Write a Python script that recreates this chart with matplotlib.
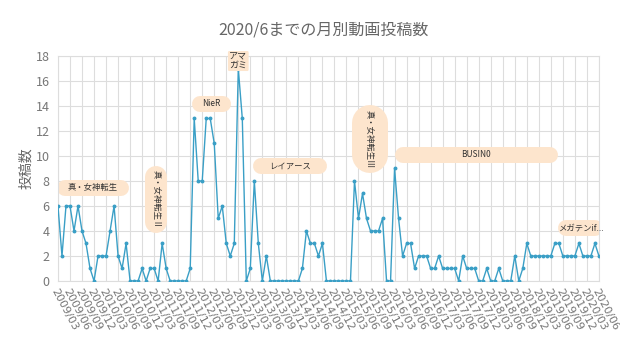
import matplotlib
matplotlib.use('Agg')
import matplotlib.pyplot as plt
import numpy as np

plt.rcParams['font.family'] = ['Noto Sans CJK JP', 'DejaVu Sans']

# monthly upload counts, 2009/03 .. 2020/06
counts_2009 = [6, 2, 6, 6, 4, 6, 4, 3, 1, 0]            # 03-12
counts_2010 = [2, 2, 2, 4, 6, 2, 1, 3, 0, 0, 0, 1]
counts_2011 = [0, 1, 1, 0, 3, 1, 0, 0, 0, 0, 0, 1]
counts_2012 = [13, 8, 8, 13, 13, 11, 5, 6, 3, 2, 3, 17]
counts_2013 = [13, 0, 1, 8, 3, 0, 2, 0, 0, 0, 0, 0]
counts_2014 = [0, 0, 0, 1, 4, 3, 3, 2, 3, 0, 0, 0]
counts_2015 = [0, 0, 0, 0, 8, 5, 7, 5, 4, 4, 4, 5]
counts_2016 = [0, 0, 9, 5, 2, 3, 3, 1, 2, 2, 2, 1]
counts_2017 = [1, 2, 1, 1, 1, 1, 0, 2, 1, 1, 1, 0]
counts_2018 = [0, 1, 0, 0, 1, 0, 0, 0, 2, 0, 1, 3]
counts_2019 = [2, 2, 2, 2, 2, 2, 3, 3, 2, 2, 2, 2]
counts_2020 = [3, 2, 2, 2, 3, 2]                        # 01-06

counts = (counts_2009 + counts_2010 + counts_2011 + counts_2012 + counts_2013 +
          counts_2014 + counts_2015 + counts_2016 + counts_2017 + counts_2018 +
          counts_2019 + counts_2020)

months = []
y, m = 2009, 3
for _ in counts:
    months.append(f"{y}/{m:02d}")
    m += 1
    if m > 12:
        y, m = y + 1, 1

# game periods: label, first month index, last month index, height, vertical?
period_labels = ['真・女神転生', '真・女神転生Ⅱ', 'NieR', 'レイアース',
                 '真・女神転生Ⅲ', 'BUSIN0', 'メガテンif...']
period_start = [1.75, 24.5, 35.5, 50.75, 77.75, 86.0, 126.75]
period_end = [15.75, 24.5, 41.25, 65.25, 77.75, 122.75, 134.0]
period_low = [7.44, 4.72, 14.16, 9.2, 10.08, 10.08, 4.24]
period_high = [7.44, 8.32, 14.16, 9.2, 12.64, 10.08, 4.24]
period_width = [16, 22, 16, 16, 36, 16, 16]   # px

fig = plt.figure(figsize=(6.2, 3.49), dpi=100)
ax = fig.add_axes([0.0935, 0.195, 0.8725, 0.6445])

x = np.arange(len(counts))
ax.plot(x, counts, color='#3a9fc6', linewidth=1.0, marker='o', markersize=1.8, zorder=3)

for lab, s, e, lo, hi, w in zip(period_labels, period_start, period_end,
                                period_low, period_high, period_width):
    ax.plot([s, e], [lo, hi], color='#fde5cd', linewidth=w * 0.72,
            solid_capstyle='round', zorder=2)
    vertical = hi != lo
    ax.text((s + e) / 2, (lo + hi) / 2, lab, ha='center', va='center',
            fontsize=6, color='#333333', rotation=-90 if vertical else 0, zorder=4)

# アマガミ label at the 2012/12 peak
ax.text(45, 17.6, 'アマ\nガミ', ha='center', va='center', fontsize=6.5,
        color='#333333', linespacing=0.9, zorder=4,
        bbox=dict(boxstyle='round,pad=0.15', fc='#fde5cd', ec='none'))

ax.set_xlim(0, len(counts) - 1)
ax.set_ylim(0, 18)
ax.set_yticks(np.arange(0, 19, 2))
ax.set_xticks(x[::3])
ax.set_xticklabels(months[::3], rotation=-62, ha='left', rotation_mode='anchor',
                   fontsize=8, color='#777777', family='DejaVu Sans')
ax.tick_params(axis='y', labelsize=9, labelcolor='#777777', length=0, pad=6)
ax.tick_params(axis='x', length=0, pad=4)
ax.grid(True, color='#dddddd', linewidth=0.8)
ax.set_axisbelow(True)
for sp in ax.spines.values():
    sp.set_color('#dddddd')
    sp.set_linewidth(0.8)

ax.set_ylabel('投稿数', fontsize=10, color='#666666', labelpad=2)
fig.text(0.522, 0.915, '2020/6までの月別動画投稿数', ha='center', va='center',
         fontsize=11.5, color='#666666')

fig.savefig('out.png', dpi=100)
